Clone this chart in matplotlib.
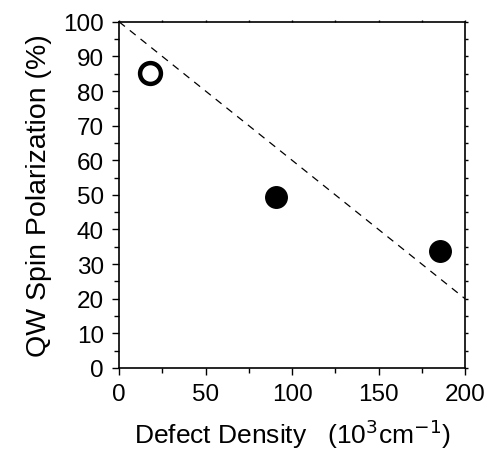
import matplotlib.pyplot as plt
from matplotlib.ticker import MultipleLocator

plt.rcParams['font.family'] = ['Liberation Sans', 'DejaVu Sans']

# data
open_x = [17.9]
open_y = [85.3]
filled_x = [90.8, 185.5]
filled_y = [49.4, 33.9]
fit_x = [0, 200]
fit_y = [100, 20]


def main():
    fig = plt.figure(figsize=(4.9, 4.56), dpi=100)
    ax = fig.add_axes([0.243, 0.191, 0.706, 0.759])

    ax.plot(fit_x, fit_y, color='black', linestyle=(0, (6, 5)), linewidth=0.9)
    ax.plot(open_x, open_y, 'o', markersize=15, markerfacecolor='white',
            markeredgecolor='black', markeredgewidth=3.2, clip_on=False)
    ax.plot(filled_x, filled_y, 'o', markersize=15.5, color='black', clip_on=False)

    ax.set_xlim(0, 200)
    ax.set_ylim(0, 100)
    ax.xaxis.set_major_locator(MultipleLocator(50))
    ax.xaxis.set_minor_locator(MultipleLocator(25))
    ax.yaxis.set_major_locator(MultipleLocator(10))
    ax.yaxis.set_minor_locator(MultipleLocator(5))
    ax.tick_params(which='both', direction='out', width=1.0, labelsize=17.5, pad=6)
    ax.tick_params(which='major', length=5)
    ax.tick_params(which='minor', length=3.5)
    # small ticks on the top and right
    ax.tick_params(which='both', top=True, right=True)
    for t in ax.xaxis.get_ticklines(minor=False)[1::2] + ax.xaxis.get_ticklines(minor=True)[1::2]:
        t.set_markersize(1.5)
    for t in ax.yaxis.get_ticklines(minor=False)[1::2] + ax.yaxis.get_ticklines(minor=True)[1::2]:
        t.set_markersize(2)
    for s in ax.spines.values():
        s.set_linewidth(1.2)

    ax.set_xlabel(r'Defect Density   (10$^{3}$cm$^{-1}$)', fontsize=19, labelpad=8)
    ax.set_ylabel('QW Spin Polarization (%)', fontsize=20.5, labelpad=8)

    fig.savefig('out.png', dpi=100)


if __name__ == "__main__":
    main()
